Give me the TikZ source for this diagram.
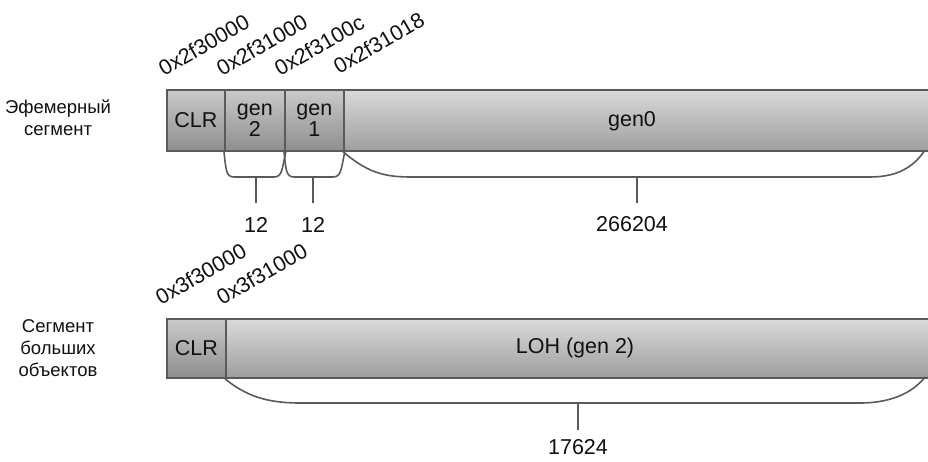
\documentclass[tikz,border=0pt]{standalone}
\usepackage{fontspec}
\setmainfont{Liberation Sans}
\definecolor{edge}{HTML}{5A5A5A}
\definecolor{stop}{HTML}{CACACA}
\definecolor{sbot}{HTML}{8E8E8E}
\definecolor{btop}{HTML}{DADADA}
\definecolor{bbot}{HTML}{9E9E9E}
\definecolor{txt}{HTML}{111111}
\begin{document}
\begin{tikzpicture}[x=1pt,y=-1pt,
  smallbox/.style={draw=edge,line width=1.8pt,top color=stop,bottom color=sbot,
    inner sep=0pt,anchor=north west,align=center,text=txt,
    font=\fontsize{21.5}{21}\selectfont},
  bigbox/.style={draw=edge,line width=1.8pt,top color=btop,bottom color=bbot,
    inner sep=0pt,anchor=north west,align=center,text=txt,
    font=\fontsize{21.5}{22}\selectfont},
  brace/.style={draw=edge,line width=1.6pt},
  addr/.style={rotate=30,anchor=base west,inner sep=0pt,text=txt,
    font=\fontsize{21.5}{22}\selectfont},
  num/.style={text=txt,font=\fontsize{21.5}{22}\selectfont},
  side/.style={text=txt,align=center,font=\fontsize{18.5}{22}\selectfont}]
\clip (0,0) rectangle (928,462);
\fill[white] (0,0) rectangle (928,462);
% top segment
\node[smallbox,minimum width=58pt,minimum height=61pt] (clr1) at (166,89) {CLR};
\node[smallbox,minimum width=60pt,minimum height=61pt] (gen2) at (224,89) {gen\\2};
\node[smallbox,minimum width=59pt,minimum height=61pt] (gen1) at (284,89) {gen\\1};
\node[bigbox,minimum width=590pt,minimum height=61pt] (gen0) at (343,89) {};
\node[num] (gen0lbl) at (632,121) {gen0};
\node[side] (lbl1) at (58,118) {Эфемерный\\сегмент};
% addresses
\node[addr] (a1) at (164,77) {0x2f30000};
\node[addr] (a2) at (222,77) {0x2f31000};
\node[addr] (a3) at (280,77) {0x2f3100c};
\node[addr] (a4) at (339,75) {0x2f31018};
% braces top
\coordinate (s2) at (256,203);
\coordinate (s1) at (313,203);
\coordinate (s0) at (637,203);
\path[brace] (gen2.south west) .. controls (226,170) and (226,177) .. (234,177)
  -- (274,177) .. controls (282,177) and (282,170) .. (gen2.south east);
\path[brace] (gen1.south west) .. controls (286,170) and (286,177) .. (294,177)
  -- (333,177) .. controls (341,177) and (341,170) .. (gen1.south east);
\path[brace] (gen0.south west) .. controls (365,170) and (380,177) .. (410,177)
  -- (870,177) .. controls (900,177) and (915,165) .. (925,150);
\draw[brace] (256,177) -- (s2);
\draw[brace] (313,177) -- (s1);
\draw[brace] (637,177) -- (s0);
\node[num] (n2) at (256,225) {12};
\node[num] (n1) at (313,225) {12};
\node[num] (n0) at (632,224) {266204};
% bottom segment
\node[smallbox,minimum width=59pt,minimum height=59pt] (clr2) at (166,318) {CLR};
\node[bigbox,minimum width=710pt,minimum height=59pt] (loh) at (225,318) {};
\node[num] (lohlbl) at (575,348) {LOH (gen 2)};
\node[side] (lbl2) at (58,348) {Сегмент\\больших\\объектов};
\node[addr] (b1) at (161,306) {0x3f30000};
\node[addr] (b2) at (222,306) {0x3f31000};
\coordinate (sL) at (578,430);
\path[brace] (loh.south west) .. controls (245,395) and (265,403) .. (300,403)
  -- (860,403) .. controls (895,403) and (915,390) .. (925,377);
\draw[brace] (578,403) -- (sL);
\node[num] (nL) at (578,447) {17624};
\end{tikzpicture}
\end{document}
